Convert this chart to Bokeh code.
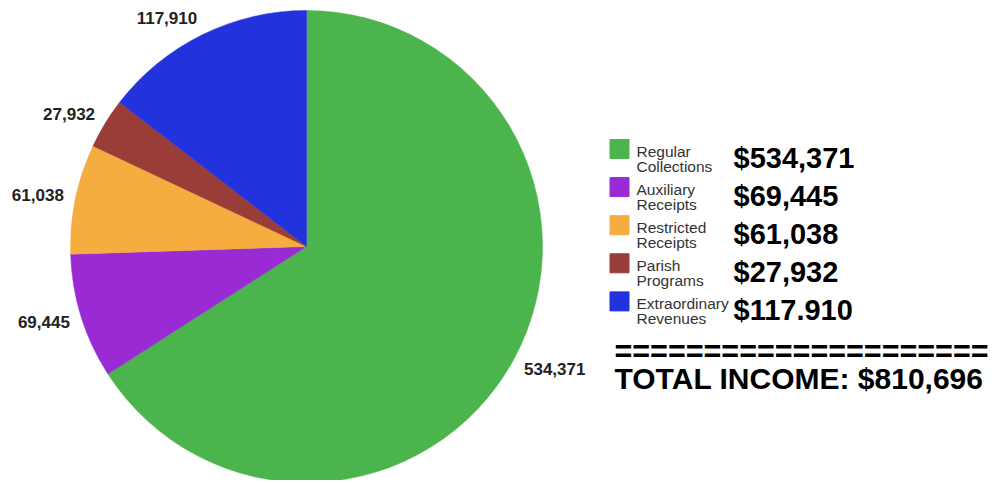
import math
from bokeh.plotting import figure
from bokeh.models import Range1d
from bokeh.embed import file_html
from bokeh.resources import INLINE
from bokeh.core.properties import value

# ---- data ----
categories = ["Regular Collections", "Auxiliary Receipts", "Restricted Receipts",
              "Parish Programs", "Extraordinary Revenues"]
amounts = [534371, 69445, 61038, 27932, 117910]
pie_labels = ["534,371", "69,445", "61,038", "27,932", "117,910"]
legend_values = ["$534,371", "$69,445", "$61,038", "$27,932", "$117.910"]
colors = ["#4cb44c", "#9a2bd4", "#f4ad3e", "#9a3c38", "#2232dc"]
separator = "=" * 21
total_label = "TOTAL INCOME: $810,696"

# ---- layout (pixel space, y up) ----
W, H = 992, 480
FONT = "Liberation Sans"

def sx(x):
    return x

def sy(y):
    return H - y

p = figure(width=W, height=H, output_backend="svg", toolbar_location=None,
           x_range=Range1d(0, W), y_range=Range1d(0, H), min_border=0)
p.axis.visible = False
p.grid.visible = False
p.outline_line_color = None
p.background_fill_color = "white"
p.border_fill_color = "white"

cx, cy, R = sx(306), sy(246), 236
total = sum(amounts)

starts, ends, mids = [], [], []
cum = 0
for a in amounts:
    s = math.pi / 2 - 2 * math.pi * cum / total
    cum += a
    e = math.pi / 2 - 2 * math.pi * cum / total
    starts.append(s)
    ends.append(e)
    mids.append((s + e) / 2)

p.wedge(x=[cx] * len(amounts), y=[cy] * len(amounts), radius=R, radius_units="screen",
        start_angle=starts, end_angle=ends, direction="clock",
        fill_color=colors, line_color=colors, line_width=0.5)

# pie value labels: anchored just outside the rim, aligned away from the pie
for side, align in ((1, "left"), (-1, "right")):
    idx = [i for i, m in enumerate(mids) if (math.cos(m) >= 0) == (side == 1)]
    if not idx:
        continue
    p.text(x=[cx + 1.05 * R * math.cos(mids[i]) for i in idx],
           y=[cy + 1.08 * R * math.sin(mids[i]) for i in idx],
           text=[pie_labels[i] for i in idx], text_align=align, text_baseline="middle",
           text_font=value(FONT), text_font_style="bold", text_font_size="17px",
           text_color="#222222")

# legend
row0, gap = 148.5, 38.1
rows = [sy(row0 + i * gap) for i in range(len(categories))]
p.rect(x=[sx(619)] * len(rows), y=rows, width=19, height=19,
       width_units="screen", height_units="screen",
       fill_color=colors, line_color=colors)
line1 = [c.split(" ", 1)[0] for c in categories]
line2 = [c.split(" ", 1)[1] for c in categories]
p.text(x=[sx(636)] * len(rows), y=[r - 2 for r in rows], text=line1,
       text_baseline="middle", text_align="left",
       text_font=value(FONT), text_font_size="15.5px", text_color="#333333")
p.text(x=[sx(636)] * len(rows), y=[r - 17 for r in rows], text=line2,
       text_baseline="middle", text_align="left",
       text_font=value(FONT), text_font_size="15.5px", text_color="#333333")
p.text(x=[sx(733)] * len(rows), y=[r - 8.5 for r in rows], text=legend_values,
       text_baseline="middle", text_align="left",
       text_font=value(FONT), text_font_style="bold", text_font_size="29px",
       text_color="#000000")

# separator and total
p.text(x=[sx(614)], y=[sy(350)], text=[separator], text_baseline="middle",
       text_align="left", text_font=value(FONT), text_font_style="bold",
       text_font_size="30.5px", text_color="#000000")
p.text(x=[sx(614)], y=[sy(378)], text=[total_label], text_baseline="middle",
       text_align="left", text_font=value(FONT), text_font_style="bold",
       text_font_size="30px", text_color="#000000")

open("out.html", "w").write(file_html(p, INLINE))
